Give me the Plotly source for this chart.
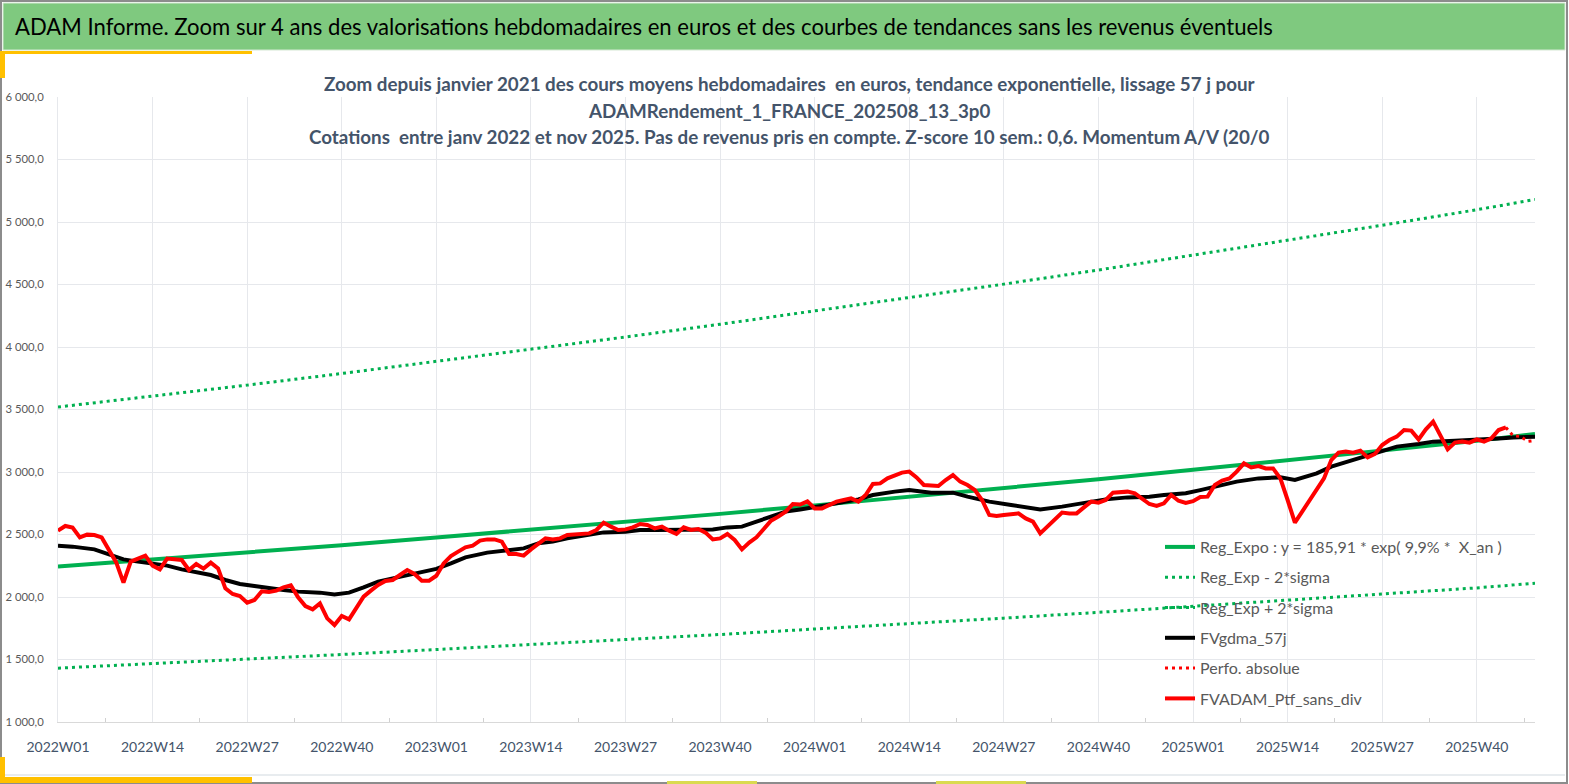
import plotly.graph_objects as go

W, H = 1569, 784
ML, MR, MT, MB = 58, 34, 97, 62

# weekly categories 2022W01 .. 2025W48
weeks = [f"{y}W{w:02d}" for y in (2022, 2023, 2024, 2025) for w in range(1, 53)][:204]

tick_weeks = ["2022W01", "2022W14", "2022W27", "2022W40",
              "2023W01", "2023W14", "2023W27", "2023W40",
              "2024W01", "2024W14", "2024W27", "2024W40",
              "2025W01", "2025W14", "2025W27", "2025W40"]

y_ticks = [1000, 1500, 2000, 2500, 3000, 3500, 4000, 4500, 5000, 5500, 6000]
y_labels = ["1 000,0", "1 500,0", "2 000,0", "2 500,0", "3 000,0", "3 500,0",
            "4 000,0", "4 500,0", "5 000,0", "5 500,0", "6 000,0"]

# trend curves read at the tick weeks + last week
trend_weeks = tick_weeks + ["2025W48"]
reg_expo = [2243, 2298, 2355, 2414, 2476, 2537, 2600, 2665, 2733,
            2800, 2870, 2942, 3018, 3093, 3170, 3249, 3305]
reg_lo = [1431, 1466, 1502, 1540, 1580, 1619, 1659, 1700, 1744,
          1786, 1831, 1877, 1925, 1973, 2022, 2073, 2110]
reg_hi = [3520, 3606, 3695, 3788, 3885, 3981, 4080, 4182, 4288,
          4393, 4503, 4616, 4735, 4853, 4974, 5098, 5180]

# FVADAM_Ptf_sans_div, weekly from 2022W01
ptf = [2531, 2568, 2555, 2477, 2499, 2496, 2477, 2376, 2277, 2115,
       2283, 2307, 2331, 2251, 2221, 2307, 2299, 2296, 2216, 2264,
       2227, 2275, 2229, 2069, 2024, 2008, 1955, 1976, 2045, 2040,
       2051, 2077, 2093, 1997, 1928, 1901, 1949, 1829, 1776, 1848,
       1821, 1909, 2003, 2051, 2096, 2128, 2136, 2176, 2216, 2184,
       2130, 2130, 2170, 2269, 2328, 2363, 2397, 2411, 2451, 2461,
       2461, 2443, 2344, 2344, 2331, 2381, 2429, 2469, 2461, 2469,
       2496, 2501, 2509, 2509, 2536, 2595, 2563, 2536, 2541, 2557,
       2584, 2576, 2549, 2563, 2531, 2504, 2557, 2536, 2544, 2515,
       2461, 2469, 2504, 2456, 2381, 2435, 2477, 2541, 2611, 2643,
       2683, 2744, 2740, 2765, 2709, 2709, 2736, 2763, 2776, 2789,
       2763, 2816, 2904, 2909, 2949, 2968, 2995, 3003, 2957, 2896,
       2888, 2888, 2936, 2976, 2923, 2896, 2856, 2776, 2656, 2648,
       2656, 2664, 2669, 2629, 2603, 2509, 2563, 2621, 2675, 2669,
       2669, 2717, 2763, 2755, 2776, 2835, 2843, 2843, 2829, 2789,
       2744, 2728, 2749, 2816, 2770, 2752, 2767, 2800, 2803, 2896,
       2931, 2949, 3003, 3069, 3037, 3048, 3029, 3029, 2949, 2776,
       2595, 2683, 2771, 2856, 2949, 3096, 3155, 3163, 3155, 3171,
       3117, 3144, 3216, 3256, 3283, 3336, 3331, 3261, 3341, 3403,
       3296, 3181, 3235, 3243, 3235, 3261, 3243, 3269, 3336, 3357]

# FVgdma_57j, read at these week offsets from 2022W01
gdma_idx = [0, 2, 5, 7, 9, 11, 13, 15, 17, 19, 21, 23, 25, 27, 29, 31, 33, 36,
            38, 40, 42, 44, 46, 48, 50, 52, 54, 56, 59, 62, 64, 66, 68, 70, 73,
            75, 78, 80, 82, 85, 88, 90, 92, 94, 96, 98, 100, 102, 104, 107, 110,
            112, 115, 117, 120, 123, 125, 128, 131, 134, 135, 138, 141, 144, 147,
            150, 152, 155, 157, 159, 162, 165, 168, 170, 173, 175, 178, 181, 184,
            187, 189, 192, 195, 198, 200, 203]
gdma = [2411, 2403, 2381, 2344, 2301, 2283, 2269, 2251, 2221, 2195, 2176, 2136,
        2104, 2088, 2069, 2056, 2043, 2035, 2020, 2035, 2077, 2123, 2149, 2176,
        2200, 2225, 2269, 2317, 2355, 2376, 2389, 2429, 2443, 2469, 2496, 2517,
        2523, 2536, 2536, 2536, 2541, 2541, 2557, 2563, 2603, 2643, 2683, 2700,
        2717, 2749, 2781, 2816, 2843, 2856, 2835, 2835, 2803, 2763, 2736, 2709,
        2701, 2723, 2749, 2781, 2797, 2803, 2816, 2830, 2855, 2883, 2923, 2949,
        2957, 2936, 2989, 3043, 3096, 3155, 3203, 3224, 3243, 3251, 3256, 3269,
        3277, 3283]

perfo_weeks = ["2025W44", "2025W45", "2025W46", "2025W47", "2025W48"]
perfo = [3357, 3290, 3285, 3245, 3252]

pos = {w: i for i, w in enumerate(weeks)}

GREEN = "#00B050"
FONT = "Lato, Liberation Sans, Arial"
TXT = "#44546A"

fig = go.Figure()
tx = [pos[w] for w in trend_weeks]
fig.add_trace(go.Scatter(x=tx, y=reg_expo, mode="lines", legendgroup="a",
                         name="Reg_Expo : y = 185,91 * exp( 9,9% *  X_an )",
                         line=dict(color=GREEN, width=4)))
fig.add_trace(go.Scatter(x=tx, y=reg_lo, mode="lines", legendgroup="b",
                         name="Reg_Exp - 2*sigma",
                         line=dict(color=GREEN, width=3, dash="3px,4px")))
fig.add_trace(go.Scatter(x=tx, y=reg_hi, mode="lines", legendgroup="c",
                         name="Reg_Exp + 2*sigma",
                         line=dict(color=GREEN, width=3, dash="3px,4px")))
fig.add_trace(go.Scatter(x=gdma_idx, y=gdma, mode="lines", legendgroup="d",
                         name="FVgdma_57j", line=dict(color="black", width=4)))
fig.add_trace(go.Scatter(x=[pos[w] for w in perfo_weeks], y=perfo, mode="lines",
                         legendgroup="e", name="Perfo. absolue",
                         line=dict(color="#FF0000", width=3, dash="3px,4px")))
fig.add_trace(go.Scatter(x=list(range(len(ptf))), y=ptf, mode="lines",
                         legendgroup="f", name="FVADAM_Ptf_sans_div",
                         line=dict(color="#FF0000", width=4)))


def box(x0, y0, x1, y1):
    # page pixels -> paper coords
    pw, ph = W - ML - MR, H - MT - MB
    return dict(x0=(x0 - ML) / pw, x1=(x1 - ML) / pw,
                y0=(H - MB - y0) / ph, y1=(H - MB - y1) / ph)


def py(y):
    return (H - MB - y) / (H - MT - MB)


def px(x):
    return (x - ML) / (W - ML - MR)


shapes = [
    dict(type="rect", xref="paper", yref="paper", line=dict(color="#8C8C8C", width=2),
         **box(1, 1, 1567, 783)),
    dict(type="rect", xref="paper", yref="paper", fillcolor="#7FC97F",
         line=dict(color="#D5E8D4", width=1), **box(3, 3, 1565, 50)),
    dict(type="rect", xref="paper", yref="paper", fillcolor="#FFC000", line_width=0,
         **box(0, 51, 252, 54)),
    dict(type="rect", xref="paper", yref="paper", fillcolor="#FFC000", line_width=0,
         **box(0, 51, 5, 78)),
    dict(type="rect", xref="paper", yref="paper", fillcolor="#FFC000", line_width=0,
         **box(0, 757, 5, 783)),
    dict(type="rect", xref="paper", yref="paper", fillcolor="#FFC000", line_width=0,
         **box(0, 777, 252, 783)),
    dict(type="line", xref="paper", yref="paper", line=dict(color="#E8ECEF", width=2),
         **box(5, 775, 1565, 775)),
    dict(type="rect", xref="paper", yref="paper", fillcolor="#DADA50", line_width=0,
         **box(667, 781, 757, 784)),
    dict(type="rect", xref="paper", yref="paper", fillcolor="#DADA50", line_width=0,
         **box(936, 781, 1026, 784)),
]

title = ("ADAM Informe. Zoom sur 4 ans des valorisations hebdomadaires en euros "
         "et des courbes de tendances sans les revenus éventuels")
sub = ["Zoom depuis janvier 2021 des cours moyens hebdomadaires  en euros, "
       "tendance exponentielle, lissage 57 j pour",
       "ADAMRendement_1_FRANCE_202508_13_3p0",
       "Cotations  entre janv 2022 et nov 2025. Pas de revenus pris en compte. "
       "Z-score 10 sem.: 0,6. Momentum A/V (20/0"]

annotations = [dict(text=title, xref="paper", yref="paper", x=px(13), y=py(27),
                    xanchor="left", yanchor="middle", showarrow=False,
                    font=dict(family=FONT, size=22.1, color="black"))]
for s, yy in zip(sub, (83, 110, 137)):
    annotations.append(dict(text="<b>" + s + "</b>", xref="paper", yref="paper",
                            x=px(789), y=py(yy), xanchor="center", yanchor="middle",
                            showarrow=False,
                            font=dict(family=FONT, size=18.8, color=TXT)))

fig.update_layout(
    width=W, height=H, margin=dict(l=ML, r=MR, t=MT, b=MB, autoexpand=False),
    paper_bgcolor="white", plot_bgcolor="white",
    font=dict(family=FONT, color=TXT),
    shapes=shapes, annotations=annotations,
    showlegend=True,
    legend=dict(x=px(1160), y=py(530), xanchor="left", yanchor="top",
                bgcolor="rgba(0,0,0,0)", font=dict(family=FONT, size=16, color="#595959"),
                tracegroupgap=6.5, traceorder="grouped"),
    xaxis=dict(range=[0, len(weeks) - 1], tickmode="array",
               tickvals=[pos[w] for w in tick_weeks], ticktext=tick_weeks,
               showgrid=True, gridcolor="#E6E8EC", gridwidth=1,
               showline=True, linecolor="#D9D9D9", linewidth=1,
               ticks="", zeroline=False, ticklabelstandoff=12,
               tickfont=dict(family=FONT, size=14, color=TXT),
               minor=dict(tickmode="linear", tick0=6.5, dtick=13, ticks="inside",
                          ticklen=4, tickcolor="#D0D0D0", showgrid=False)),
    yaxis=dict(range=[1000, 6000], tickmode="array", tickvals=y_ticks, ticktext=y_labels,
               showgrid=True, gridcolor="#E6E8EC", gridwidth=1, zeroline=False,
               showline=True, linecolor="#E6E8EC", ticks="",
               ticklabelstandoff=11,
               tickfont=dict(family=FONT, size=11.3, color="#595959")),
)

fig.write_html("out.html", config={"displayModeBar": False},
               post_script="document.body.style.margin='0';")
